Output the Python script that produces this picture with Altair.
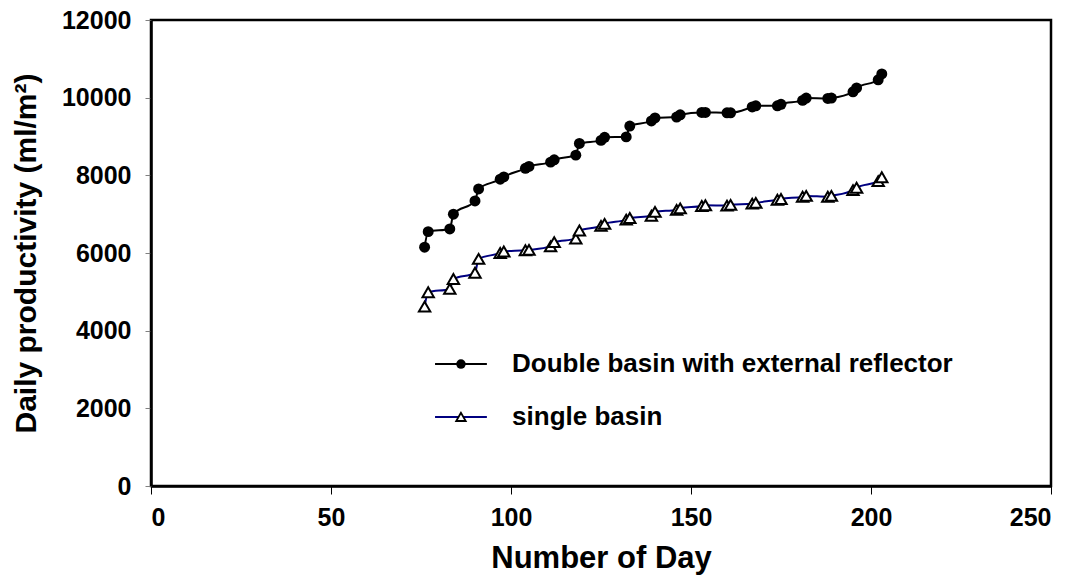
import altair as alt
import pandas as pd

days = [76, 77, 83, 84, 90, 91, 97, 98, 104, 105, 111, 112, 118, 119, 125, 126,
        132, 133, 139, 140, 146, 147, 153, 154, 160, 161, 167, 168, 174, 175,
        181, 182, 188, 189, 195, 196, 202, 203]
double_basin = [6150, 6550, 6620, 7000, 7340, 7650, 7900, 7960, 8180, 8230, 8340, 8400,
                8520, 8820, 8900, 8980, 8990, 9270, 9400, 9480, 9500, 9560, 9620, 9620,
                9610, 9610, 9760, 9790, 9790, 9830, 9930, 9990, 9980, 9990, 10150, 10250,
                10460, 10610]
single_basin = [4620, 4990, 5075, 5330, 5490, 5850, 6000, 6040, 6070, 6080, 6170, 6280,
                6370, 6580, 6700, 6750, 6860, 6900, 6960, 7060, 7110, 7150, 7210, 7230,
                7220, 7240, 7270, 7290, 7370, 7390, 7450, 7470, 7450, 7470, 7620, 7680,
                7850, 7950]
series_names = ["Double basin with external reflector", "single basin"]
x_ticks = [0, 50, 100, 150, 200, 250]
y_ticks = [0, 2000, 4000, 6000, 8000, 10000, 12000]

FONT = "Liberation Sans"
W, H = 900, 466

df_d = pd.DataFrame({"day": days, "value": double_basin})
df_s = pd.DataFrame({"day": days, "value": single_basin})

xs = alt.Scale(domain=[0, 250], nice=False)
ys = alt.Scale(domain=[0, 12000], nice=False)

xax = alt.Axis(values=x_ticks, title="Number of Day", grid=False, format="d",
               labelFont=FONT, labelFontSize=25, labelFontWeight="bold", labelColor="black",
               titleFont=FONT, titleFontSize=31, titleFontWeight="bold", titleColor="black",
               tickSize=8, tickColor="black", labelPadding=11, titlePadding=13,
               domainColor="black", domainWidth=2.5)
yax = alt.Axis(values=y_ticks, title="Daily productivity (ml/m²)", grid=False, format="d",
               labelFont=FONT, labelFontSize=25, labelFontWeight="bold", labelColor="black",
               titleFont=FONT, titleFontSize=30, titleFontWeight="bold", titleColor="black",
               tickSize=6, tickColor="#808080", labelPadding=14, titlePadding=20,
               domainColor="black", domainWidth=2.5)

line_d = alt.Chart(df_d).mark_line(color="black", strokeWidth=2, interpolate="monotone").encode(
    x=alt.X("day:Q", scale=xs, axis=xax),
    y=alt.Y("value:Q", scale=ys, axis=yax),
)
pts_d = alt.Chart(df_d).mark_point(shape="circle", filled=True, color="black", size=120, opacity=1).encode(
    x=alt.X("day:Q", scale=xs), y=alt.Y("value:Q", scale=ys))

line_s = alt.Chart(df_s).mark_line(color="#000080", strokeWidth=2, interpolate="monotone").encode(
    x=alt.X("day:Q", scale=xs), y=alt.Y("value:Q", scale=ys))
pts_s = alt.Chart(df_s).mark_point(shape="triangle-up", filled=True, fill="white", stroke="black",
                                   strokeWidth=2, size=130, opacity=1).encode(
    x=alt.X("day:Q", scale=xs), y=alt.Y("value:Q", scale=ys))

# legend (layout positions in data units)
leg_x0, leg_x1, leg_xm, leg_xt = 78.9, 93.3, 86.1, 100.3
leg_y = [3140, 1780]
leg_lines = pd.DataFrame({"x": [leg_x0, leg_x0], "x2": [leg_x1, leg_x1], "y": leg_y,
                          "name": series_names})
leg_l = alt.Chart(leg_lines).mark_rule(strokeWidth=2).encode(
    x=alt.X("x:Q", scale=xs), x2="x2:Q", y=alt.Y("y:Q", scale=ys),
    color=alt.Color("name:N", scale=alt.Scale(domain=series_names, range=["black", "#000080"]), legend=None))
leg_pd = alt.Chart(pd.DataFrame({"x": [leg_xm], "y": [leg_y[0]]})).mark_point(
    shape="circle", filled=True, color="black", size=90, opacity=1).encode(
    x=alt.X("x:Q", scale=xs), y=alt.Y("y:Q", scale=ys))
leg_ps = alt.Chart(pd.DataFrame({"x": [leg_xm], "y": [leg_y[1]]})).mark_point(
    shape="triangle-up", filled=True, fill="white", stroke="black", strokeWidth=1.8, size=90, opacity=1).encode(
    x=alt.X("x:Q", scale=xs), y=alt.Y("y:Q", scale=ys))
leg_txt = alt.Chart(pd.DataFrame({"x": [leg_xt, leg_xt], "y": leg_y, "t": series_names})).mark_text(
    align="left", baseline="middle", font=FONT, fontSize=26, fontWeight="bold", color="black").encode(
    x=alt.X("x:Q", scale=xs), y=alt.Y("y:Q", scale=ys), text="t:N")

chart = alt.layer(line_d, pts_d, line_s, pts_s, leg_l, leg_pd, leg_ps, leg_txt).properties(
    width=W, height=H,
    autosize=alt.AutoSizeParams(type="none"),
    padding={"left": 143, "top": 12, "right": 21, "bottom": 89},
    background="white",
).configure_view(stroke="black", strokeWidth=2.5)

chart.save("out.html", embed_options={"renderer": "svg", "actions": False})
